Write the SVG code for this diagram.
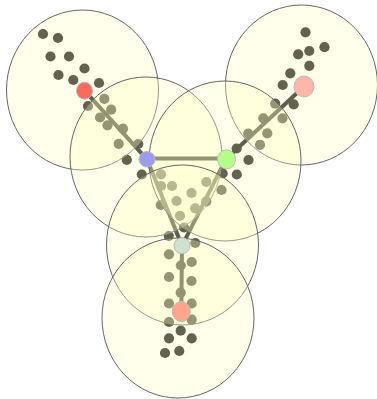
<svg xmlns="http://www.w3.org/2000/svg" width="377" height="399" viewBox="0 0 377 399">
<style>
.dot{fill:#151515;}
.edge{stroke:#111;stroke-width:4;fill:none;}
.range{fill:#ffffc2;fill-opacity:0.33;stroke:#666;stroke-width:1;}
.node{stroke:#bbb;stroke-width:1;}
</style>
<rect width="377" height="399" fill="#ffffff"/>
<g id="dots">
<circle class="dot" cx="43" cy="34" r="5.1"/><circle class="dot" cx="58" cy="38" r="5.1"/>
<circle class="dot" cx="50.5" cy="56.5" r="5.1"/><circle class="dot" cx="69" cy="56.5" r="5.1"/>
<circle class="dot" cx="58.5" cy="75" r="5.1"/><circle class="dot" cx="73.3" cy="80" r="5.1"/>
<circle class="dot" cx="84.5" cy="68.5" r="5.1"/><circle class="dot" cx="99" cy="83" r="5.1"/>
<circle class="dot" cx="88" cy="106" r="5.1"/><circle class="dot" cx="104.3" cy="98.8" r="5.1"/>
<circle class="dot" cx="111.2" cy="109.7" r="5.1"/><circle class="dot" cx="100" cy="117.5" r="5.1"/>
<circle class="dot" cx="107.5" cy="125.3" r="5.1"/><circle class="dot" cx="123" cy="128.7" r="5.1"/>
<circle class="dot" cx="118.7" cy="143.8" r="5.1"/><circle class="dot" cx="138.2" cy="144" r="5.1"/>
<circle class="dot" cx="126.8" cy="159.8" r="5.1"/><circle class="dot" cx="141.8" cy="174.5" r="5.1"/>
<circle class="dot" cx="161" cy="174.3" r="5.1"/><circle class="dot" cx="161" cy="186" r="5.1"/>
<circle class="dot" cx="172" cy="186" r="5.1"/><circle class="dot" cx="191.5" cy="193" r="5.1"/>
<circle class="dot" cx="176.5" cy="201" r="5.1"/><circle class="dot" cx="160.8" cy="205" r="5.1"/>
<circle class="dot" cx="195.2" cy="208.3" r="5.1"/><circle class="dot" cx="206.3" cy="182" r="5.1"/>
<circle class="dot" cx="206.3" cy="201.3" r="5.1"/><circle class="dot" cx="180" cy="215.8" r="5.1"/>
<circle class="dot" cx="221.5" cy="190" r="5.1"/><circle class="dot" cx="222.7" cy="173.5" r="5.1"/>
<circle class="dot" cx="236.8" cy="174.5" r="5.1"/><circle class="dot" cx="248.5" cy="160" r="5.1"/>
<circle class="dot" cx="236.7" cy="148.5" r="5.1"/><circle class="dot" cx="248.2" cy="133.5" r="5.1"/>
<circle class="dot" cx="260" cy="144.8" r="5.1"/><circle class="dot" cx="263.3" cy="118.3" r="5.1"/>
<circle class="dot" cx="267.3" cy="133.3" r="5.1"/><circle class="dot" cx="275.2" cy="103.7" r="5.1"/>
<circle class="dot" cx="282.5" cy="118.3" r="5.1"/><circle class="dot" cx="293.7" cy="104.3" r="5.1"/>
<circle class="dot" cx="282.7" cy="85" r="5.1"/><circle class="dot" cx="290.3" cy="73.3" r="5.1"/>
<circle class="dot" cx="309.3" cy="65.8" r="5.1"/><circle class="dot" cx="298.2" cy="54.3" r="5.1"/>
<circle class="dot" cx="309.3" cy="51" r="5.1"/><circle class="dot" cx="324.5" cy="47.2" r="5.1"/>
<circle class="dot" cx="305.5" cy="32.3" r="5.1"/>
<circle class="dot" cx="184" cy="227.5" r="5.1"/><circle class="dot" cx="168.8" cy="236" r="5.1"/>
<circle class="dot" cx="195.3" cy="243" r="5.1"/><circle class="dot" cx="169" cy="254.3" r="5.1"/>
<circle class="dot" cx="191.7" cy="262" r="5.1"/><circle class="dot" cx="180.8" cy="265.5" r="5.1"/>
<circle class="dot" cx="169" cy="277" r="5.1"/><circle class="dot" cx="191.5" cy="281" r="5.1"/>
<circle class="dot" cx="180.7" cy="292.7" r="5.1"/><circle class="dot" cx="169" cy="303.5" r="5.1"/>
<circle class="dot" cx="191.7" cy="303.5" r="5.1"/><circle class="dot" cx="169" cy="322" r="5.1"/>
<circle class="dot" cx="191.7" cy="319.7" r="5.1"/><circle class="dot" cx="180.7" cy="330.7" r="5.1"/>
<circle class="dot" cx="169" cy="338.3" r="5.1"/><circle class="dot" cx="191.7" cy="338.3" r="5.1"/>
<circle class="dot" cx="165" cy="353" r="5.1"/><circle class="dot" cx="179.3" cy="351" r="5.1"/>
</g>
<g id="connectors">
<line class="edge" x1="84.5" y1="90.7" x2="147" y2="159.3"/>
<line class="edge" x1="147" y1="158.5" x2="226" y2="158.5"/>
<line class="edge" x1="226" y1="159" x2="304" y2="86.5"/>
<line class="edge" x1="147" y1="159.3" x2="182" y2="245.7"/>
<line class="edge" x1="226" y1="159" x2="182" y2="245.7"/>
<line class="edge" x1="182" y1="245.7" x2="181.3" y2="311.5"/>
</g>
<g id="ranges">
<ellipse class="range" cx="82.5" cy="90" rx="76" ry="80"/>
<ellipse class="range" cx="301.5" cy="85" rx="76" ry="80"/>
<ellipse class="range" cx="146" cy="157" rx="76" ry="80"/>
<ellipse class="range" cx="225" cy="161" rx="76" ry="80"/>
<ellipse class="range" cx="182.5" cy="245" rx="76" ry="80"/>
<ellipse class="range" cx="178" cy="318" rx="76" ry="80"/>
</g>
<g id="node-red"><ellipse class="node" cx="84.5" cy="90.7" rx="8" ry="8.5" fill="#fa6b5e"/></g>
<g id="node-blue"><ellipse class="node" cx="147" cy="159.3" rx="8" ry="7.8" fill="#9c9cee"/></g>
<g id="node-green"><ellipse class="node" cx="226.5" cy="159.3" rx="9" ry="9.5" fill="#b6ff88"/></g>
<g id="node-pink"><ellipse class="node" cx="304" cy="86.5" rx="10" ry="10.5" fill="#ffb5a8"/></g>
<g id="node-mint"><ellipse class="node" cx="182" cy="245.7" rx="8" ry="8" fill="#cde3d0"/></g>
<g id="node-salmon"><ellipse class="node" cx="181.3" cy="311.5" rx="9" ry="10" fill="#ffa58a"/></g>
</svg>
